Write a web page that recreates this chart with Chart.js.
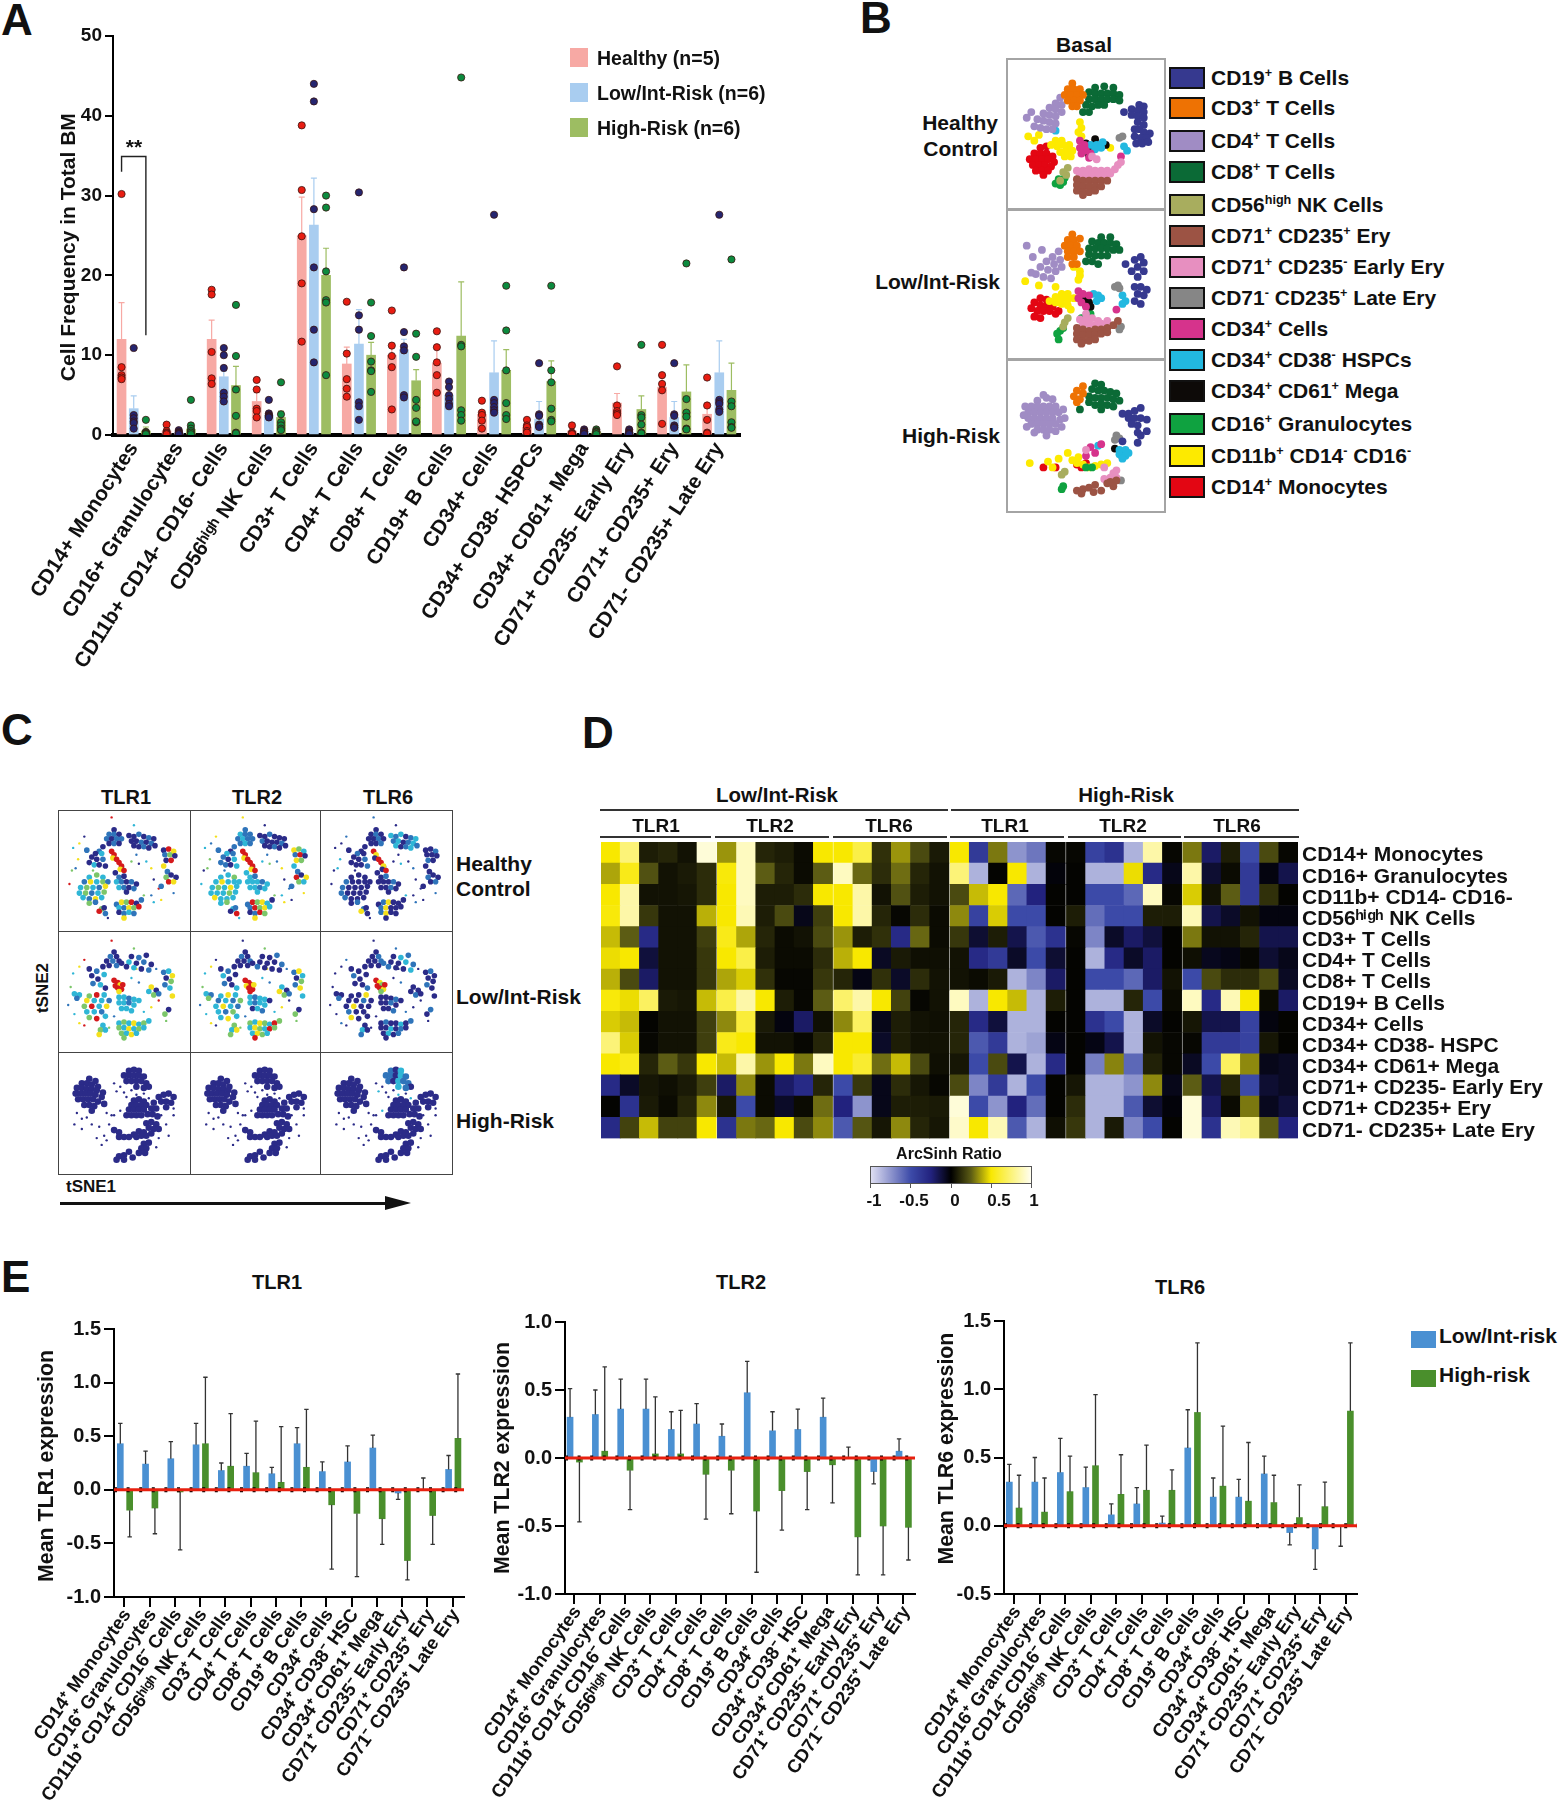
<!DOCTYPE html>
<html>
<head>
<meta charset="utf-8">
<script src="https://cdn.jsdelivr.net/npm/chart.js@4/dist/chart.umd.min.js"></script>
<style>
  html, body { margin: 0; background: #fff; }
  #page { position: relative; width: 1558px; height: 1800px; overflow: hidden; font-family: "Liberation Sans", Arial, sans-serif; color: #111; }
  #page canvas { position: absolute; }
  .t { position: absolute; white-space: nowrap; }
  .box { position: absolute; box-sizing: border-box; }
  sup { font-size: 60%; line-height: 0; }
</style>
</head>
<body>
<div id="page"></div>
<script>
// ---------- panel A data ----------
const freqCats = ['CD14+ Monocytes', 'CD16+ Granulocytes', 'CD11b+ CD14- CD16- Cells', 'CD56ʰⁱᵍʰ NK Cells', 'CD3+ T Cells', 'CD4+ T Cells', 'CD8+ T Cells', 'CD19+ B Cells', 'CD34+ Cells', 'CD34+ CD38- HSPCs', 'CD34+ CD61+ Mega', 'CD71+ CD235- Early Ery', 'CD71+ CD235+ Ery', 'CD71- CD235+ Late Ery'];
const healthyMean = [12, 0.5, 12, 4.2, 25, 8.9, 10, 9, 2.6, 1, 0.5, 4, 6, 2.6];
const lowMean = [3.3, 0.3, 7.3, 2.5, 26.3, 11.4, 10.7, 5, 7.8, 2, 0.4, 0.3, 2.2, 7.8];
const highMean = [0.5, 0.7, 6.2, 2.2, 20, 10, 6.8, 12.4, 8.1, 6.7, 0.4, 3.2, 5.4, 5.6];
const healthyTop = [16.6, 0.8, 14.4, 5.3, 29.8, 11, 11.5, 11, 3, 2, 0.8, 5.2, 7.5, 3.8];
const lowTop = [4.9, 0.4, 8, 3, 32.2, 15.7, 12, 6, 11.8, 4.2, 0.5, 0.5, 4.2, 11.8];
const highTop = [1, 1.5, 8.6, 3, 23.4, 11.6, 8.2, 19.2, 10.7, 9.3, 0.6, 4.9, 8.8, 9];
const healthyDots = [[30.2,8.5,7.5,7.2,7],[1.3,0.5,0.3,0.2,0.1],[18.2,17.6,10.4,7.1,6.4],[6.9,5.7,3.3,3,2.2],[38.8,30.7,24.9,19,11.7],[16.7,10.2,7,5.8,4.8],[15.6,11.2,9.9,8.5,3.2],[13,11,9.1,7.5,5.3],[4.3,2.8,2.5,1.8,0.8],[1.9,1.2,1,0.5,0.3],[1.2,0.3,0.2,0.15,0.1],[8.6,3.7,3,2.7,2.5],[11.3,7.5,6.4,5.6,1.4],[7.2,3.7,1.9,0.3,0.2]];
const lowDots = [[10.9,2.5,2.1,1.7,1.5,0.8],[0.6,0.4,0.3,0.2,0.15,0.1],[10.9,10,8.4,5.3,4.8,4.2],[4.4,2.7,2.5,2.4,2.3,2.2],[44,41.8,28.3,21,13.2,9.1],[30.4,15,13.2,4.1,3.6,1.9],[21,12.9,11.1,10.6,5,4.7],[6.7,6,5,4.5,3.9,3.6],[27.6,4.4,4,3.5,3.1,2.8],[9,2.6,2.4,1.3,1.1,1],[0.7,0.5,0.4,0.2,0.1,0.1],[0.7,0.5,0.3,0.2,0.1,0.1],[9,2.6,2.4,1.2,1,0.9],[27.6,4.4,4.1,3.9,3.2,2.9]];
const highDots = [[1.9,0.4,0.3,0.2,0.15,0.1],[4.4,1.2,0.8,0.5,0.3,0.1],[16.3,9.9,5.7,2.4,0.3,0.2],[6.6,2.6,1.6,1.2,0.8,0.6],[30,28.5,20.5,16.9,16.6,7.5],[16.6,12.4,9.2,8.1,8,5.4],[12.7,9.8,4.4,3.4,1.6,1.7],[44.8,11.3,11.1,3.1,2.5,1.8],[18.7,13.1,8.1,4,2.5,2],[18.7,8.1,6.6,3.3,1.9,1.7],[0.7,0.5,0.4,0.3,0.1,0.1],[11.3,2.5,2.2,1.3,0.3,0.2],[21.5,4.5,2.8,2.3,0.8,0.7],[22,4.2,3.6,1.6,1,0.9]];

// ---------- panel B data: tSNE, in percent of panel ----------
const basalNames = ['CD19<sup>+</sup> B Cells', 'CD3<sup>+</sup> T Cells', 'CD4<sup>+</sup> T Cells', 'CD8<sup>+</sup> T Cells', 'CD56<sup>high</sup> NK Cells', 'CD71<sup>+</sup> CD235<sup>+</sup> Ery', 'CD71<sup>+</sup> CD235<sup>-</sup> Early Ery', 'CD71<sup>-</sup> CD235<sup>+</sup> Late Ery', 'CD34<sup>+</sup> Cells', 'CD34<sup>+</sup> CD38<sup>-</sup> HSPCs', 'CD34<sup>+</sup> CD61<sup>+</sup> Mega', 'CD16<sup>+</sup> Granulocytes', 'CD11b<sup>+</sup> CD14<sup>-</sup> CD16<sup>-</sup>', 'CD14<sup>+</sup> Monocytes'];
const basalColors = ['#36398f', '#ee7203', '#a08cc4', '#0b6a36', '#a8ad5e', '#9c5344', '#e78fc0', '#868686', '#d6338c', '#22b8e0', '#0d0a08', '#0fa240', '#fdea00', '#e30613'];

const hcCD19 = [[85,30],[88,31],[80,33],[84,34],[88,35],[75,35],[80,37],[84,38],[88,39],[84,42],[88,44],[82,47],[85,47],[88,49],[92,50],[82,52],[86,53],[90,53],[83,57],[87,57],[91,56]];
const hcCD3 = [[41,15],[38,19],[42,19],[46,19],[36,23],[40,23],[44,23],[48,23],[38,27],[42,27],[46,27],[41,31],[44,31]];
const hcCD4 = [[33,25],[30,29],[34,30],[26,32],[30,33],[34,35],[22,36],[26,37],[30,38],[18,40],[22,41],[26,42],[30,43],[16,45],[20,46],[24,47],[28,47],[11,39],[14,35]];
const hcCD8 = [[56,18],[62,17],[68,18],[52,21],[56,22],[60,22],[64,22],[68,22],[72,23],[52,26],[56,26],[60,26],[64,26],[68,26],[72,27],[50,30],[54,31],[58,30],[62,30],[48,35],[52,35]];
const hcNK = [[37,79],[35,77],[33,83],[38,74]];
const hcEry = [[44,82],[48,83],[52,83],[56,83],[60,83],[64,83],[44,86],[48,87],[52,87],[56,87],[60,87],[44,90],[48,91],[52,91],[56,90],[48,93]];
const hcEarly = [[44,76],[48,76],[52,75],[56,76],[60,76],[64,76],[46,79],[50,79],[54,79],[58,79],[62,79],[69,75],[71,72],[73,70],[54,66],[57,68],[66,78]];
const hcLate = [[72,53],[74,52]];
const hcCD34 = [[46,55],[49,58],[46,60],[50,62],[53,64],[47,64],[52,67],[73,66]];
const hcHSPC = [[53,58],[57,58],[60,60],[56,61],[61,56],[75,59],[77,62],[30,48]];
const hcMega = [[50,57],[53,61],[52,65],[56,54],[63,58]];
const hcGran = [[32,82],[30,85],[33,86],[35,84],[36,81]];
const hcCD11b = [[30,55],[34,55],[27,58],[31,59],[35,58],[39,58],[33,63],[37,62],[41,62],[36,66],[46,42],[47,46],[45,49],[47,52],[40,66],[19,51],[12,52],[16,55],[66,60]];
const hcCD14 = [[20,60],[24,59],[16,64],[20,64],[24,64],[28,66],[13,68],[17,68],[21,68],[25,68],[29,70],[15,72],[19,72],[23,72],[27,73],[17,76],[21,76],[25,76],[22,79]];

const liCD19 = [[86,31],[82,33],[88,35],[76,36],[84,38],[80,41],[88,41],[84,45],[82,52],[86,52],[90,54],[84,57],[88,58],[82,62],[86,64]];
const liCD3 = [[41,15],[38,19],[42,19],[46,18],[36,23],[40,23],[44,23],[38,27],[42,27],[46,27],[38,31],[42,31],[41,36],[44,36]];
const liCD4 = [[32,27],[28,31],[33,33],[24,34],[29,36],[34,38],[20,38],[25,40],[30,41],[15,31],[17,43],[22,45],[27,46],[14,42],[11,23],[21,26]];
const liCD8 = [[60,17],[66,17],[54,20],[58,21],[62,21],[66,21],[70,22],[52,25],[56,25],[60,25],[64,25],[68,26],[72,26],[52,29],[56,30],[60,30],[64,30],[50,34],[54,34],[58,36]];
const liNK = [[36,77],[35,80],[38,74]];
const liEry = [[44,81],[48,82],[52,83],[56,82],[60,82],[64,81],[68,79],[71,76],[44,85],[48,86],[52,86],[56,86],[60,85],[64,84],[44,89],[48,90],[52,90],[56,89],[47,92]];
const liEarly = [[46,75],[50,75],[54,74],[58,76],[48,78],[52,78],[56,79],[60,78],[64,76],[50,71]];
const liLate = [[69,52],[71,51],[72,53],[72,82],[73,80]];
const liCD34 = [[45,55],[48,57],[45,60],[52,58],[50,66],[47,63],[70,68]];
const liHSPC = [[55,57],[58,58],[60,60],[57,62],[74,58],[76,62],[74,64]];
const liMega = [[50,60],[52,63],[50,65],[53,66]];
const liGran = [[33,83],[31,85],[35,81],[50,73],[47,74],[53,71],[32,89]];
const liCD11b = [[34,57],[38,57],[30,59],[34,60],[38,61],[42,60],[26,62],[30,63],[34,64],[38,65],[40,68],[46,41],[46,44],[45,47],[42,38],[10,48],[19,51],[30,52]];
const liCD14 = [[20,60],[24,61],[16,63],[20,65],[24,65],[28,66],[32,69],[14,67],[18,69],[22,69],[26,69],[30,71],[20,74],[16,73]];

const hrCD19 = [[86,31],[82,33],[78,35],[74,35],[78,38],[82,38],[86,38],[80,42],[84,43],[90,39],[84,48],[86,50],[90,47],[84,55],[74,54]];
const hrCD3 = [[48,16],[44,19],[48,21],[42,23],[46,25],[44,27]];
const hrCD4 = [[24,24],[28,25],[18,26],[14,30],[18,30],[22,30],[26,30],[30,30],[12,34],[16,34],[20,34],[24,34],[28,34],[32,34],[12,38],[16,38],[20,38],[24,38],[28,38],[33,39],[14,42],[18,42],[22,42],[26,42],[30,42],[18,46],[22,46],[26,46],[10,30],[9,36],[35,32],[36,38],[11,44],[16,48],[24,50],[30,47],[34,44],[22,22]];
const hrCD8 = [[56,14],[60,15],[54,18],[58,19],[62,19],[66,20],[70,21],[52,23],[56,24],[60,24],[64,24],[68,25],[72,26],[52,27],[56,29],[60,28],[64,29],[68,30],[60,32],[46,32]];
const hrNK = [[36,75],[34,77]];
const hrEry = [[44,88],[48,87],[52,86],[56,84],[55,89],[60,88],[66,82],[70,81],[68,85],[64,83],[47,90]];
const hrEarly = [[68,76],[70,74],[66,79],[70,79],[62,80],[62,72],[50,60]];
const hrLate = [[70,50],[72,52],[69,53],[73,81]];
const hrCD34 = [[53,58],[56,62],[50,64],[60,56]];
const hrHSPC = [[72,60],[76,60],[72,63],[76,64],[74,66],[78,62],[58,57]];
const hrMega = [[73,61],[76,62],[74,65],[69,59]];
const hrGran = [[35,85],[34,87],[50,72],[54,72]];
const hrCD11b = [[41,67],[44,69],[48,70],[52,72],[56,71],[60,70],[64,69],[25,68],[28,72],[32,66],[38,62],[13,69],[45,65]];
const hrCD14 = [[44,70],[47,72],[50,69],[30,72],[22,72]];

const healthyClusters = [hcCD19, hcCD3, hcCD4, hcCD8, hcNK, hcEry, hcEarly, hcLate, hcCD34, hcHSPC, hcMega, hcGran, hcCD11b, hcCD14];
const lowClusters = [liCD19, liCD3, liCD4, liCD8, liNK, liEry, liEarly, liLate, liCD34, liHSPC, liMega, liGran, liCD11b, liCD14];
const highClusters = [hrCD19, hrCD3, hrCD4, hrCD8, hrNK, hrEry, hrEarly, hrLate, hrCD34, hrHSPC, hrMega, hrGran, hrCD11b, hrCD14];

// ---------- panel C data ----------
const exprPalette = ['#2b2b88', '#2f74ba', '#2fb6d6', '#7cc66a', '#f4e01c', '#d5191c'];
// point lists by cell group, one set per row of the grid
const r1Top = [[42,14],[38,18],[42,18],[46,18],[36,22],[40,22],[44,22],[48,22],[38,26],[42,26],[46,26]];
const r1Band = [[54,19],[58,20],[62,18],[66,20],[70,21],[74,22],[56,24],[60,24],[64,25],[68,25],[72,26],[75,28],[58,28],[62,29],[66,29],[70,30]];
const r1Strip = [[33,29],[30,33],[27,35],[32,35],[24,38],[28,40],[33,40],[22,43],[26,45],[30,45],[35,46],[20,32]];
const r1Streak = [[40,33],[42,36],[41,39],[44,40],[46,43],[48,46],[47,49],[50,50]];
const r1Right = [[82,32],[86,31],[90,33],[83,36],[87,36],[91,37],[84,41],[88,41],[82,46],[85,51],[84,56],[88,54],[92,56],[86,60],[90,60],[80,64]];
const r1Big = [[22,56],[28,54],[33,56],[18,60],[23,60],[28,60],[33,60],[37,60],[15,65],[20,65],[25,65],[30,65],[35,64],[14,70],[19,70],[24,70],[29,70],[34,69],[17,74],[22,75],[27,75],[32,74],[22,79],[27,78]];
const r1Center = [[43,52],[46,56],[50,55],[44,60],[48,60],[52,60],[56,60],[60,62],[46,65],[50,65],[54,65],[58,66],[52,69],[48,47]];
const r1Bottom = [[44,80],[48,78],[52,78],[56,78],[60,79],[64,76],[46,83],[50,83],[54,83],[58,83],[62,82],[46,87],[50,88],[54,87],[58,88],[50,92],[32,84],[30,86],[34,83],[35,88]];
const r1Sparse = [[9,30],[14,26],[18,20],[8,50],[11,48],[6,62],[68,42],[72,48],[74,58],[66,72],[72,72],[78,66],[74,78],[80,76],[62,44],[56,42],[60,36],[40,3],[58,10],[13,40],[37,92],[25,50],[90,70]];

const r2Top = [[42,15],[39,19],[44,19],[36,23],[41,23],[46,23],[38,27],[44,27],[48,25]];
const r2Band = [[56,19],[62,20],[68,18],[54,24],[60,25],[66,24],[72,26],[58,29],[64,30],[70,31],[52,28]];
const r2Strip = [[33,28],[28,32],[34,35],[24,36],[29,39],[25,43],[31,44],[35,47],[22,30]];
const r2Streak = [[42,40],[45,42],[43,45],[47,44],[45,47],[48,48],[49,44],[46,50]];
const r2Right = [[82,33],[86,32],[89,36],[84,38],[88,41],[83,44],[87,47],[72,46],[76,49],[74,53],[78,52],[70,50],[89,54],[86,66],[83,70]];
const r2Big = [[10,52],[14,53],[12,56],[22,54],[28,53],[34,53],[20,58],[26,58],[32,58],[38,58],[18,63],[24,63],[30,63],[36,63],[20,68],[26,68],[32,68],[22,73],[28,74],[35,72]];
const r2Center = [[46,55],[50,55],[54,56],[58,57],[62,58],[46,60],[50,60],[54,60],[58,62],[48,65],[52,65],[56,67]];
const r2Bottom = [[46,78],[50,77],[54,78],[58,78],[62,79],[66,78],[70,76],[46,82],[50,82],[54,83],[58,83],[62,83],[66,82],[48,87],[52,87],[56,88],[60,87],[50,91],[33,80],[31,84],[35,84],[30,88]];
const r2Sparse = [[9,34],[14,28],[18,22],[7,46],[5,62],[10,70],[14,78],[18,80],[38,82],[42,72],[66,68],[72,64],[78,58],[84,76],[62,42],[56,38],[60,30],[40,5],[58,12],[76,30]];

const r3Top = [[54,13],[58,12],[62,13],[50,17],[54,17],[58,17],[62,17],[66,18],[52,22],[56,22],[60,22],[64,22],[68,24],[70,27],[60,27],[66,28]];
const r3UpperLeft = [[22,20],[27,22],[16,24],[20,24],[24,25],[29,27],[12,28],[16,28],[20,29],[24,29],[28,30],[33,32],[11,33],[15,33],[19,33],[23,33],[27,34],[32,36],[13,38],[17,38],[21,38],[25,38],[29,40],[34,42],[18,43],[22,43],[26,44],[24,48]];
const r3Bits = [[42,24],[47,27],[44,31],[50,32],[56,30],[60,34],[66,33],[52,36],[70,37],[36,50],[40,52],[47,48]];
const r3Right = [[78,36],[82,34],[86,33],[90,36],[80,40],[84,40],[88,41],[84,45]];
const r3Mid = [[58,39],[62,38],[66,40],[56,43],[60,43],[64,43],[68,43],[74,41],[54,47],[58,47],[62,47],[66,47],[72,46],[76,46],[52,52],[56,52],[60,52],[64,52],[69,51],[73,51],[77,53]];
const r3Lower = [[68,59],[72,58],[76,60],[70,63],[74,64],[78,64],[72,68],[42,65],[46,67],[50,71],[46,71],[54,71],[58,69],[62,66],[60,71],[64,70],[66,67],[68,70]];
const r3Bottom = [[66,77],[70,76],[64,81],[68,81],[62,85],[67,85],[46,88],[50,87],[54,84],[50,91],[57,89],[44,91]];
const r3Sparse = [[12,50],[16,55],[20,54],[10,60],[16,64],[24,60],[30,62],[34,70],[28,72],[38,60],[32,78],[36,74],[42,52],[84,60],[90,52],[80,52],[86,70],[78,72],[76,80],[90,46]];

// expression level of each group, by TLR column; repeated along the group's points
const r1LevelsTLR1 = [[0,1,1,0,1],[0,0,1,0,1,0],[0,1,0,2,0],[5,5,4,5],[0,5,4,1,3,0],[2,3,2,1,4,2,3,1],[0,1,0,2,1],[1,4,3,5,0,1,2],[2,4,0,3,1,5]];
const r1LevelsTLR2 = [[1,2,1,1],[0,0,1,0],[1,0,2,1],[5,5,4,5],[4,3,2,1,5,0],[2,2,3,2,4,2,2],[2,2,1,2],[1,5,3,4,2,0],[2,1,4,0,3]];
const r1LevelsTLR6 = [[0,0,1,0],[2,1,2,0,1],[0,0,1,0],[5,4,0,5],[0,0,1,0],[0,0,0,1,0],[0,0,1,0],[0,1,4,0,0],[0,0,1,0,2]];
const r2LevelsTLR1 = [[0,1,0],[0,1,0,2],[0,1,2,0],[5,5,5,4],[1,2,4,0,3],[2,2,1,3,5,2,4],[2,2,1,2,2],[2,3,2,4,2,3],[2,4,5,3,1]];
const r2LevelsTLR2 = [[0,1,0,0],[0,0,1,0],[0,1,0,2],[5,5,4,5],[1,4,2,0,3],[2,1,3,2,4,2,1],[2,1,2,2,0],[3,2,4,3,2,5],[2,4,0,3,1]];
const r2LevelsTLR6 = [[0,0,1],[0,2,1,0],[0,0,0,1],[5,4,5,3],[0,1,0,0],[0,0,1,0,0,4],[0,0,0,1],[0,1,0,0,2],[0,0,1,0]];
const r3LevelsTLR1 = [[0],[0],[0],[0],[0],[0],[0],[0]];
const r3LevelsTLR2 = [[0],[0],[0],[0],[0],[0],[0],[0]];
const r3LevelsTLR6 = [[1,0,2,1],[0],[0,0,2],[0],[0],[0],[0],[0]];

const row1Groups = [r1Top, r1Band, r1Strip, r1Streak, r1Right, r1Big, r1Center, r1Bottom, r1Sparse];
const row2Groups = [r2Top, r2Band, r2Strip, r2Streak, r2Right, r2Big, r2Center, r2Bottom, r2Sparse];
const row3Groups = [r3Top, r3UpperLeft, r3Bits, r3Right, r3Mid, r3Lower, r3Bottom, r3Sparse];

// ---------- panel D data ----------
const heatRows = ['CD14+ Monocytes', 'CD16+ Granulocytes', 'CD11b+ CD14- CD16-', 'CD56ʰⁱᵍʰ NK Cells', 'CD3+ T Cells', 'CD4+ T Cells', 'CD8+ T Cells', 'CD19+ B Cells', 'CD34+ Cells', 'CD34+ CD38- HSPC', 'CD34+ CD61+ Mega', 'CD71+ CD235- Early Ery', 'CD71+ CD235+ Ery', 'CD71- CD235+ Late Ery'];
const heatLow = [
  [.5,.75,.08,.1,.05,.95, .35,.9,.1,.08,.03,.5, .5,.65,.13,.35,.2,.07],
  [.38,.55,.22,.05,.07,.12, .52,.9,.25,.1,.03,.25, .9,.27,.12,.28,.1,.05],
  [.5,.85,.05,.05,.06,.12, .5,.9,.08,.08,.12,.5, .5,.85,.05,.22,.08,.05],
  [.52,.85,.15,.05,.05,.4, .5,.88,.08,.2,-.05,.17, .5,.85,.1,.02,.12,.03],
  [.42,.25,-.3,.05,.05,.17, .55,.38,.1,.03,.05,.2, .35,.08,.13,-.3,.27,.03],
  [.48,.5,-.12,.05,.05,.15, .5,.65,.08,.03,.03,.12, .4,.5,-.07,.07,.04,.04],
  [.4,.2,-.2,.05,.05,.15, .38,.45,.13,.02,.02,.15, .1,-.04,.13,-.08,.12,.05],
  [.52,.48,.7,.07,.06,.42, .65,.85,.5,.08,.02,.25, .72,.85,.5,.18,.02,.05],
  [.45,.42,.01,.05,.05,.17, .33,.62,.07,-.03,-.2,.04, .33,.7,-.05,.08,.05,.04],
  [.75,.45,.02,.05,.05,.17, .55,.5,.05,.05,.02,.1, .5,.5,-.08,.08,.05,.05],
  [.5,.55,.1,.25,.15,.5, .42,.85,.35,.5,.3,.9, .5,.6,.28,.42,.2,.04],
  [-.3,-.08,.06,.04,.07,.17, -.2,.33,.03,-.2,-.3,.1, -.5,.15,-.05,.12,.06,.02],
  [.01,-.35,.07,.03,.1,.33, .06,-.5,.03,-.08,.03,.28, -.25,-.75,-.05,.08,.08,.07],
  [-.3,.18,.42,.18,.18,.5, -.35,.3,.27,.5,.2,.33, -.55,.23,.06,.33,.1,.06]
];
const heatHigh = [
  [.5,-.4,.3,-.75,-.65,.02, .02,-.45,-.35,-.85,.85,.02, .3,-.2,.08,-.5,.2,.02],
  [.75,-.85,.01,.5,-.85,-.02, .01,-.85,-.85,.48,-.3,-.05, .85,-.1,.03,-.4,-.03,-.15],
  [.2,.42,.5,-.6,-.25,.01, .01,-.5,-.5,-.6,.9,.02, .45,.05,.25,-.4,.13,.01],
  [.33,-.45,.45,-.5,-.5,.01, .08,-.62,-.5,-.5,.08,.08, .88,-.15,-.08,.05,-.03,-.03],
  [.15,-.1,.08,-.15,-.55,-.35, .02,-.7,-.08,-.2,-.12,.01, .3,.05,.05,.1,-.15,-.15],
  [.05,-.3,-.4,-.08,-.5,-.1, .01,-.85,-.3,-.08,-.2,.01, .04,-.06,-.04,.02,-.1,-.05],
  [.05,.03,.07,-.85,-.7,-.2, .01,-.5,-.5,-.6,-.2,.05, -.5,.2,.12,.12,.2,-.07],
  [.9,-.85,.5,.42,-.85,.08, .01,-.85,-.85,.1,-.5,.03, .9,-.3,.88,.5,.03,-.2],
  [.1,-.3,-.12,-.85,-.85,.01, .01,-.35,-.5,-.85,-.08,.01, .06,-.15,-.15,-.45,-.03,.01],
  [.1,-.55,-.4,-.85,-.8,-.04, .01,-.04,-.15,-.85,.05,.02, .02,-.4,-.4,-.45,.06,.01],
  [.06,-.5,.2,-.15,-.85,-.3, .01,-.68,.32,-.6,.09,.02, -.07,-.5,.7,.33,-.05,-.07],
  [.2,-.7,-.4,-.85,-.5,.01, .06,-.85,-.85,-.75,.33,-.05, .25,-.15,.1,-.5,-.1,-.07],
  [.95,-.5,-.75,-.25,-.62,.01, .12,-.85,-.85,-.55,-.1,-.02, .95,-.2,.03,.3,-.06,-.12],
  [.92,.5,.88,-.55,-.85,.04, .15,-.85,.07,-.7,-.5,.01, .95,-.35,.88,.8,.25,-.25]
];
const heatStops = [[-1,'#dedef2'],[-.5,'#3c4aa8'],[-.25,'#22227e'],[0,'#000000'],[.25,'#5c5c14'],[.5,'#f8e800'],[1,'#fffef0']];

// ---------- panel E data ----------
const tlrCats = ['CD14⁺ Monocytes', 'CD16⁺ Granulocytes', 'CD11b⁺ CD14⁻ CD16⁻ Cells', 'CD56ʰⁱᵍʰ NK Cells', 'CD3⁺ T Cells', 'CD4⁺ T Cells', 'CD8⁺ T Cells', 'CD19⁺ B Cells', 'CD34⁺ Cells', 'CD34⁺ CD38⁻ HSC', 'CD34⁺ CD61⁺ Mega', 'CD71⁺ CD235⁻ Early Ery', 'CD71⁺ CD235⁺ Ery', 'CD71⁻ CD235⁺ Late Ery'];
const tlr1Low = [.43,.24,.29,.42,.18,.22,.15,.43,.17,.26,.39,-.03,0,.19];
const tlr1LowErr = [.62,.36,.45,.62,.25,.34,.21,.58,.26,.41,.51,-.09,.11,.32];
const tlr1High = [-.19,-.17,-.02,.43,.22,.16,.07,.21,-.14,-.22,-.27,-.66,-.24,.48];
const tlr1HighErr = [-.44,-.41,-.56,1.05,.71,.64,.59,.75,-.74,-.81,-.51,-.84,-.51,1.08];
const tlr2Low = [.30,.32,.36,.36,.21,.25,.16,.48,.20,.21,.30,0,-.10,.05];
const tlr2LowErr = [.51,.50,.58,.58,.34,.40,.25,.71,.34,.36,.44,.08,-.19,.14];
const tlr2High = [-.03,.05,-.09,.03,.03,-.12,-.09,-.39,-.24,-.10,-.05,-.58,-.50,-.51];
const tlr2HighErr = [-.47,.67,-.38,.45,.35,-.45,-.41,-.84,-.53,-.38,-.33,-.86,-.86,-.75];
const tlr6Low = [.32,.32,.39,.28,.08,.16,.02,.57,.21,.21,.38,-.05,-.17,0];
const tlr6LowErr = [.45,.50,.64,.43,.16,.28,.07,.85,.35,.34,.51,-.14,-.32,-.15];
const tlr6High = [.13,.10,.25,.44,.23,.26,.26,.83,.29,.18,.17,.06,.14,.84];
const tlr6HighErr = [.37,.35,.51,.96,.52,.59,.41,1.34,.73,.61,.37,.30,.32,1.34];

// ---------- helpers ----------
const page = document.getElementById('page');
const FONT = '"Liberation Sans", Arial, sans-serif';
Chart.defaults.font.family = FONT;
Chart.defaults.color = '#111';
Chart.defaults.animation = false;
Chart.defaults.plugins.legend.display = false;
Chart.defaults.plugins.tooltip.enabled = false;

// whiskers for the bars, read from the dataset's errEnd list
const errorBars = {
  id: 'errorBars',
  afterDatasetDraw(chart, args) {
    const ds = chart.data.datasets[args.index];
    if (!ds.errEnd) return;
    const ctx = chart.ctx, y = chart.scales.y;
    ctx.save();
    ctx.strokeStyle = ds.errColor;
    ctx.lineWidth = ds.errWidth;
    args.meta.data.forEach((bar, i) => {
      const ye = y.getPixelForValue(ds.errEnd[i]);
      ctx.beginPath();
      ctx.moveTo(bar.x, bar.y);
      ctx.lineTo(bar.x, ye);
      ctx.moveTo(bar.x - ds.errCap, ye);
      ctx.lineTo(bar.x + ds.errCap, ye);
      ctx.stroke();
    });
    ctx.restore();
  }
};
Chart.register(errorBars);

function addCanvas(left, top, w, h) {
  const c = document.createElement('canvas');
  c.width = w; c.height = h;
  c.style.left = left + 'px'; c.style.top = top + 'px';
  c.style.width = w + 'px'; c.style.height = h + 'px';
  page.appendChild(c);
  return c.getContext('2d');
}

// text anchored at x,y; align is 'l', 'r' or 'c'
function txt(html, x, y, size, opts = {}) {
  const d = document.createElement('div');
  d.className = 't';
  d.innerHTML = html;
  d.style.left = x + 'px';
  d.style.top = y + 'px';
  d.style.fontSize = size + 'px';
  d.style.fontWeight = opts.weight || 'bold';
  const ax = opts.align === 'l' ? '0' : opts.align === 'r' ? '-100%' : '-50%';
  d.style.transform = `translate(${ax},-50%)` + (opts.rot ? ` rotate(${opts.rot}deg)` : '');
  page.appendChild(d);
}

function rect(x, y, w, h, css) {
  const d = document.createElement('div');
  d.className = 'box';
  d.style.cssText = `left:${x}px;top:${y}px;width:${w}px;height:${h}px;${css}`;
  page.appendChild(d);
}

function tsneChart(left, top, w, h, groups, colorsFor, radiusFor) {
  new Chart(addCanvas(left, top, w, h), {
    type: 'scatter',
    data: {
      datasets: groups.map((pts, g) => ({
        data: pts.map(p => ({ x: p[0], y: p[1] })),
        backgroundColor: pts.map((p, i) => colorsFor(g, i)),
        pointRadius: radiusFor(g),
        pointBorderWidth: 0
      }))
    },
    options: {
      responsive: false,
      layout: { padding: 0 },
      scales: {
        x: { display: false, min: 0, max: 100 },
        y: { display: false, min: 0, max: 100, reverse: true }
      }
    }
  });
}

function heatColor(v) {
  for (let i = 1; i < heatStops.length; i++) {
    if (v <= heatStops[i][0]) {
      const [a, ca] = heatStops[i - 1], [b, cb] = heatStops[i];
      const f = (v - a) / (b - a);
      const ch = (c, k) => parseInt(c.substr(1 + k * 2, 2), 16);
      return `rgb(${[0, 1, 2].map(k => Math.round(ch(ca, k) + (ch(cb, k) - ch(ca, k)) * f)).join(',')})`;
    }
  }
  return heatStops[heatStops.length - 1][1];
}

// ---------- panel letters ----------
txt('A', 1, 20, 44, { align: 'l' });
txt('B', 860, 18, 44, { align: 'l' });
txt('C', 1, 730, 44, { align: 'l' });
txt('D', 582, 733, 44, { align: 'l' });
txt('E', 1, 1277, 44, { align: 'l' });

// ---------- panel A ----------
const offA = [-0.27, 0, 0.27];
const barA = (label, mean, top, color, k) => ({
  type: 'bar', label, order: 2, grouped: false, barThickness: 9,
  data: mean.map((v, i) => ({ x: i + offA[k], y: v })),
  backgroundColor: color, errEnd: top, errColor: color, errWidth: 1.2, errCap: 3
});
const dotsA = (dots, color, k) => ({
  type: 'scatter', order: 0,
  data: dots.flatMap((list, i) => list.map(v => ({ x: i + offA[k], y: v }))),
  backgroundColor: color, borderColor: '#3a1410', pointBorderWidth: 0.8, pointRadius: 3.6
});
new Chart(addCanvas(0, 0, 760, 700), {
  type: 'bar',
  data: {
    datasets: [
      barA('Healthy (n=5)', healthyMean, healthyTop, '#f7a9a4', 0),
      barA('Low/Int-Risk (n=6)', lowMean, lowTop, '#a9cdf0', 1),
      barA('High-Risk (n=6)', highMean, highTop, '#9dbd62', 2),
      dotsA(healthyDots, '#e81d12', 0),
      dotsA(lowDots, '#25256f', 1),
      dotsA(highDots, '#0c8a3e', 2),
      { type: 'scatter', showLine: true, order: 1, pointRadius: 0, borderColor: '#222', borderWidth: 1.4,
        data: [{ x: -0.27, y: 33 }, { x: -0.27, y: 34.9 }, { x: 0.27, y: 34.9 }, { x: 0.27, y: 12.5 }] }
    ]
  },
  options: {
    responsive: false,
    layout: { padding: { top: 36, right: 20 } },
    scales: {
      x: {
        type: 'linear', offset: false, min: -0.46, max: 13.46,
        afterBuildTicks: s => { s.ticks = freqCats.map((c, i) => ({ value: i })); },
        afterFit: s => { s.height = 265; },
        grid: { display: false, drawTicks: false, offset: false },
        border: { color: '#000', width: 4 },
        ticks: { autoSkip: false, minRotation: 57, maxRotation: 57, padding: 3, color: '#111', font: { size: 20.8, weight: 'bold' }, callback: v => freqCats[v] }
      },
      y: {
        min: 0, max: 50,
        afterFit: s => { s.width = 113; },
        grid: { drawOnChartArea: false, tickLength: 8, color: '#000', lineWidth: 2 },
        border: { color: '#000', width: 2 },
        ticks: { stepSize: 10, padding: 3, color: '#111', font: { size: 19, weight: 'bold' } },
        title: { display: true, text: 'Cell Frequency in Total BM\u00a0\u00a0\u00a0\u00a0', color: '#111', font: { size: 21, weight: 'bold' }, padding: { top: 57, bottom: 0 } }
      }
    }
  }
});
txt('**', 134, 147, 21);
[['Healthy (n=5)', '#f7a9a4', 58], ['Low/Int-Risk (n=6)', '#a9cdf0', 93], ['High-Risk (n=6)', '#9dbd62', 128]].forEach(([name, col, y]) => {
  rect(570, y - 10, 18, 19, `background:${col}`);
  txt(name, 597, y, 19.5, { align: 'l' });
});

// ---------- panel B ----------
txt('Basal', 1084, 45, 21);
const boxB = [58, 209, 359, 512];
[healthyClusters, lowClusters, highClusters].forEach((groups, r) => {
  rect(1006, boxB[r], 160, boxB[r + 1] - boxB[r] + 1, 'border:2px solid #a4a4a4');
  tsneChart(1006, boxB[r], 160, boxB[r + 1] - boxB[r], groups, g => basalColors[g], () => 3.9);
});
txt('Healthy', 998, 123, 21, { align: 'r' });
txt('Control', 998, 149, 21, { align: 'r' });
txt('Low/Int-Risk', 1000, 282, 21, { align: 'r' });
txt('High-Risk', 1000, 436, 21, { align: 'r' });
const basalY = [78, 108, 141, 172, 205, 236, 267, 298, 329, 360, 391, 424, 456, 487];
basalNames.forEach((name, i) => {
  rect(1169, basalY[i] - 11, 36, 22, `background:${basalColors[i]};border:2px solid #111`);
  txt(name, 1211, basalY[i], 21, { align: 'l' });
});

// ---------- panel C ----------
const gridX = [58, 190, 320, 452], gridY = [810, 931, 1052, 1174];
['TLR1', 'TLR2', 'TLR6'].forEach((name, c) => txt(name, [126, 257, 388][c], 797, 20));
const levelsByCell = [
  [r1LevelsTLR1, r1LevelsTLR2, r1LevelsTLR6],
  [r2LevelsTLR1, r2LevelsTLR2, r2LevelsTLR6],
  [r3LevelsTLR1, r3LevelsTLR2, r3LevelsTLR6]
];
[row1Groups, row2Groups, row3Groups].forEach((groups, r) => {
  const sparseGroup = groups.length - 1;
  [0, 1, 2].forEach(c => {
    const w = gridX[c + 1] - gridX[c], h = gridY[r + 1] - gridY[r];
    rect(gridX[c], gridY[r], w + 1, h + 1, 'border:1.5px solid #444');
    const levels = levelsByCell[r][c];
    const radius = g => (g === sparseGroup || (r === 2 && g === 2)) ? 1.2 : (r === 2 ? 3.3 : 2.8);
    tsneChart(gridX[c], gridY[r], w, h, groups, (g, i) => exprPalette[levels[g][i % levels[g].length]], radius);
  });
});
txt('Healthy', 456, 864, 21, { align: 'l' });
txt('Control', 456, 889, 21, { align: 'l' });
txt('Low/Int-Risk', 456, 997, 21, { align: 'l' });
txt('High-Risk', 456, 1121, 21, { align: 'l' });
txt('tSNE2', 43, 988, 17, { rot: -90 });
txt('tSNE1', 66, 1187, 17, { align: 'l' });
rect(60, 1202, 330, 3, 'background:#111');
rect(385, 1196, 26, 14, 'background:#111;clip-path:polygon(0 0,100% 50%,0 100%)');

// ---------- panel D ----------
const heatCells = [];
heatRows.forEach((row, r) => {
  heatLow[r].concat(heatHigh[r]).forEach((v, c) => {
    const gap = Math.floor(c / 6) * 0.06;
    heatCells.push({ x: [c + gap, c + gap + 1], y: row, v });
  });
});
new Chart(addCanvas(590, 825, 968, 330), {
  type: 'bar',
  data: {
    labels: heatRows,
    datasets: [{
      data: heatCells,
      backgroundColor: ctx => heatColor(ctx.raw ? ctx.raw.v : 0),
      barPercentage: 1, categoryPercentage: 1, borderWidth: 0
    }]
  },
  options: {
    responsive: false,
    indexAxis: 'y',
    layout: { padding: { left: 11, top: 17, bottom: 14 } },
    scales: {
      x: { display: false, min: 0, max: 36.3 },
      y: {
        position: 'right',
        afterFit: s => { s.width = 260; },
        grid: { display: false, drawTicks: false },
        border: { display: false },
        ticks: { autoSkip: false, padding: 4, labelOffset: 3, color: '#111', font: { size: 21, weight: 'bold' } }
      }
    }
  }
});
txt('Low/Int-Risk', 777, 795, 20.5);
txt('High-Risk', 1126, 795, 20.5);
rect(600, 809, 348, 2, 'background:#333');
rect(951, 809, 348, 2, 'background:#333');
[[656, 600, 711, 'TLR1'], [770, 715, 829, 'TLR2'], [889, 833, 947, 'TLR6'], [1005, 950, 1064, 'TLR1'], [1123, 1068, 1181, 'TLR2'], [1237, 1184, 1299, 'TLR6']].forEach(([cx, a, b, name]) => {
  txt(name, cx, 826, 19);
  rect(a, 836, b - a, 1.5, 'background:#333');
});
txt('ArcSinh Ratio', 949, 1154, 16);
rect(870, 1166, 162, 18, 'border:1px solid #555;background:linear-gradient(to right,' + heatStops.map(s => `${s[1]} ${(s[0] + 1) * 50}%`).join(',') + ')');
[['-1', 874, 870], ['-0.5', 914, 910], ['0', 955, 951], ['0.5', 999, 991], ['1', 1034, 1031]].forEach(([lab, x, mark]) => {
  txt(lab, x, 1201, 17);
  rect(mark, 1184, 1, 4, 'background:#555');
});

// ---------- panel E ----------
function tlrChart(cfg) {
  const offs = cfg.offs;
  const bars = (vals, errs, color, k) => ({
    type: 'bar', order: 2, grouped: false, barThickness: 6,
    data: vals.map((v, i) => ({ x: i + offs[k], y: v })),
    backgroundColor: color, errEnd: errs, errColor: '#333', errWidth: 1.3, errCap: 2.2
  });
  const zero = (color, width, dash) => ({
    type: 'scatter', showLine: true, order: 0, pointRadius: 0, borderColor: color, borderWidth: width, borderDash: dash,
    data: [{ x: cfg.xMin, y: 0 }, { x: cfg.xMax, y: 0 }]
  });
  new Chart(addCanvas(cfg.left, 1300, cfg.width, 500), {
    type: 'bar',
    data: {
      datasets: [
        bars(cfg.low, cfg.lowErr, '#4a90d2', 0),
        bars(cfg.high, cfg.highErr, '#4a8f2c', 1),
        zero('#e8200f', 3, []),
        zero('#000', 5, [3, 9.6])
      ]
    },
    options: {
      responsive: false,
      layout: { padding: { top: cfg.top - 1300, right: cfg.left + cfg.width - cfg.right } },
      scales: {
        x: {
          type: 'linear', offset: false, min: cfg.xMin, max: cfg.xMax,
          afterBuildTicks: s => { s.ticks = tlrCats.map((c, i) => ({ value: i })); },
          afterFit: s => { s.height = 1800 - cfg.bottom; },
          grid: { drawOnChartArea: false, offset: false, tickLength: 10, color: '#000', lineWidth: 2 },
          border: { color: '#000', width: 2 },
          ticks: { autoSkip: false, minRotation: 55, maxRotation: 55, padding: -2, labelOffset: 3, color: '#111', font: { size: 18.5, weight: 'bold' }, callback: v => tlrCats[v] }
        },
        y: {
          min: cfg.yMin, max: cfg.yMax,
          afterFit: s => { s.width = cfg.axis - cfg.left; },
          grid: { drawOnChartArea: false, tickLength: 10, color: '#000', lineWidth: 2 },
          border: { color: '#000', width: 2 },
          ticks: { stepSize: 0.5, padding: 3, color: '#111', font: { size: 20, weight: 'bold' }, callback: v => v.toFixed(1) },
          title: { display: true, text: cfg.title, color: '#111', font: { size: 21.3, weight: 'bold' }, padding: { top: cfg.titleX - cfg.left - 12, bottom: 0 } }
        }
      }
    }
  });
}
tlrChart({ left: 0, width: 490, axis: 114, right: 464, top: 1329, bottom: 1597, xMin: -0.41, xMax: 13.45, yMin: -1, yMax: 1.5, offs: [-0.16, 0.21], low: tlr1Low, lowErr: tlr1LowErr, high: tlr1High, highErr: tlr1HighErr, title: 'Mean TLR1 expression\u00a0', titleX: 46 });
tlrChart({ left: 460, width: 480, axis: 565, right: 915, top: 1322, bottom: 1594, xMin: -0.37, xMax: 13.46, yMin: -1, yMax: 1, offs: [-0.17, 0.2], low: tlr2Low, lowErr: tlr2LowErr, high: tlr2High, highErr: tlr2HighErr, title: 'Mean TLR2 expression', titleX: 502 });
tlrChart({ left: 900, width: 480, axis: 1004, right: 1357, top: 1321, bottom: 1594, xMin: -0.4, xMax: 13.45, yMin: -0.5, yMax: 1.5, offs: [-0.19, 0.19], low: tlr6Low, lowErr: tlr6LowErr, high: tlr6High, highErr: tlr6HighErr, title: '\u00a0\u00a0\u00a0Mean TLR6 expression', titleX: 946 });
txt('TLR1', 277, 1282, 20);
txt('TLR2', 741, 1282, 20);
txt('TLR6', 1180, 1287, 20);
rect(1411, 1331, 25, 17, 'background:#4a90d2');
rect(1411, 1370, 25, 17, 'background:#4a8f2c');
txt('Low/Int-risk', 1439, 1336, 21, { align: 'l' });
txt('High-risk', 1439, 1375, 21, { align: 'l' });
</script>
</body>
</html>
